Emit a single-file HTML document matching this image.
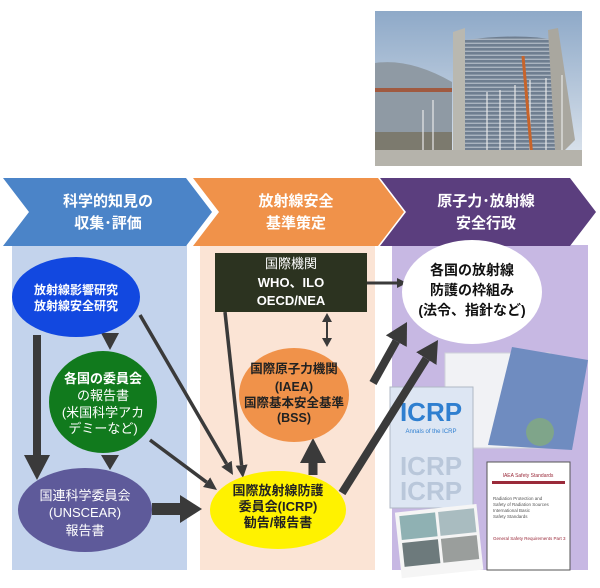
<!DOCTYPE html>
<html><head><meta charset="utf-8"><style>
body{margin:0;background:#fff;width:600px;height:583px;overflow:hidden}
svg text{font-family:"Liberation Sans","Noto Sans CJK JP",sans-serif;text-anchor:middle}
svg text.l{text-anchor:start}
</style></head><body>
<svg width="600" height="583" viewBox="0 0 600 583">
<defs>
<marker id="m13" markerUnits="userSpaceOnUse" markerWidth="13" markerHeight="12" refX="0" refY="6" orient="auto"><path d="M0,0 L13,6 L0,12z" fill="#3a3a3a"/></marker>
<marker id="m22" markerUnits="userSpaceOnUse" markerWidth="22" markerHeight="24" refX="0" refY="12" orient="auto"><path d="M0,0 L22,12 L0,24z" fill="#3a3a3a"/></marker>
<marker id="m10" markerUnits="userSpaceOnUse" markerWidth="10" markerHeight="10" refX="0" refY="5" orient="auto"><path d="M0,0 L10,5 L0,10z" fill="#3a3a3a"/></marker>
<linearGradient id="sky" x1="0" y1="0" x2="0" y2="1"><stop offset="0" stop-color="#8ea9c8"/><stop offset="1" stop-color="#dfe6ee"/></linearGradient>
<pattern id="win" width="6" height="4" patternUnits="userSpaceOnUse"><rect width="6" height="4" fill="#6f7e90"/><rect y="2.6" width="6" height="1.4" fill="#aab4c0"/></pattern>
</defs>
<!-- photo -->
<rect x="375" y="11" width="207" height="155" fill="url(#sky)"/>
<path d="M453,32 L465,28 L465,150 L453,150z" fill="#b9b8b0"/>
<path d="M465,40 Q520,33 555,40 L560,150 L465,150z" fill="url(#win)"/>
<path d="M548,30 L558,28 L575,140 L565,150 L555,150z" fill="#a9a79f"/>
<path d="M375,63 Q410,58 452,82 L452,150 L375,150z" fill="#8f9aa4"/>
<rect x="375" y="88" width="77" height="4" fill="#a05a40"/>
<rect x="375" y="132" width="77" height="18" fill="#7c7a6e"/>
<g stroke="#e8e8e8" stroke-width="1.2"><line x1="423" y1="110" x2="423" y2="150"/><line x1="433" y1="100" x2="433" y2="150"/><line x1="487" y1="92" x2="487" y2="150"/><line x1="500" y1="90" x2="500" y2="150"/><line x1="515" y1="85" x2="515" y2="150"/><line x1="530" y1="80" x2="530" y2="150"/><line x1="546" y1="78" x2="546" y2="150"/><line x1="562" y1="75" x2="562" y2="150"/></g>
<line x1="523" y1="56" x2="532" y2="158" stroke="#c8642a" stroke-width="3"/>
<rect x="375" y="150" width="207" height="16" fill="#b5b3ab"/>
<!-- panels -->
<rect x="12" y="245" width="175" height="325" fill="#c3d3ec"/>
<rect x="200" y="245" width="175" height="325" fill="#fbe4d5"/>
<rect x="392" y="245" width="196" height="325" fill="#c7b8e3"/>
<!-- chevrons -->
<path d="M3,178 L186,178 L212,212 L186,246 L3,246 L29,212z" fill="#4b84c8"/>
<path d="M193,178 L378,178 L404,212 L378,246 L193,246 L219,212z" fill="#f0924a"/>
<path d="M380,178 L570,178 L596,212 L570,246 L380,246 L406,212z" fill="#5b3e7e"/>
<g fill="#fff" font-size="15" font-weight="bold">
<text x="108" y="206">科学的知見の</text><text x="108" y="228">収集･評価</text>
<text x="296" y="206">放射線安全</text><text x="296" y="228">基準策定</text>
<text x="486" y="206">原子力･放射線</text><text x="486" y="228">安全行政</text>
</g>
<!-- books -->
<rect x="445" y="353" width="105" height="95" fill="#f1f2f5" stroke="#d0d3da"/>
<polygon points="512,347 588,360 572,450 488,445" fill="#6f8cc0"/>
<circle cx="540" cy="432" r="14" fill="#7fa58a"/>
<rect x="390" y="387" width="83" height="121" fill="#dde6f3" stroke="#b0b8c4"/>
<text x="431" y="421" font-size="26" font-weight="bold" fill="#2f7fd0">ICRP</text>
<text x="431" y="433" font-size="6" fill="#2f7fd0">Annals of the ICRP</text>
<text x="431" y="475" font-size="26" font-weight="bold" fill="#b9c7da">ICRP</text>
<text x="431" y="500" font-size="26" font-weight="bold" fill="#b9c7da">ICRP</text>
<g transform="rotate(-6 440 540)"><rect x="398" y="508" width="82" height="66" fill="#f5f5f5"/>
<rect x="402" y="512" width="36" height="24" fill="#8fb1b3"/><rect x="441" y="512" width="36" height="24" fill="#a9bcc0"/>
<rect x="402" y="539" width="36" height="24" fill="#6d7a7c"/><rect x="441" y="539" width="36" height="24" fill="#9a9e9c"/></g>
<rect x="487" y="462" width="83" height="108" fill="#fff" stroke="#555"/>
<rect x="492" y="481" width="73" height="3" fill="#9a2a3a"/>
<text x="528" y="477" font-size="5" fill="#9a2a3a">IAEA Safety Standards</text>
<g font-size="4.5" fill="#555"><text class="l" x="493" y="500">Radiation Protection and</text><text class="l" x="493" y="506">Safety of Radiation Sources</text><text class="l" x="493" y="512">International Basic</text><text class="l" x="493" y="518">Safety Standards</text><text class="l" x="493" y="540" fill="#9a2a3a">General Safety Requirements Part 3</text></g>
<!-- connectors -->
<g stroke="#3a3a3a" fill="none">
<line x1="37" y1="335" x2="37" y2="456" stroke-width="8"/>
<line x1="140" y1="315" x2="226.5" y2="463.8" stroke-width="3.5" marker-end="url(#m13)"/>
<line x1="150" y1="440" x2="206.6" y2="482.2" stroke-width="3.5" marker-end="url(#m13)"/>
<line x1="225" y1="312" x2="241.6" y2="465.1" stroke-width="3.5" marker-end="url(#m13)"/>
<line x1="152" y1="509" x2="181" y2="509" stroke-width="12"/>
<line x1="313" y1="475" x2="313" y2="461" stroke-width="9"/>
<line x1="373" y1="383" x2="396.3" y2="341.2" stroke-width="8" marker-end="url(#m22)"/>
<line x1="342" y1="493" x2="426.3" y2="358.6" stroke-width="8" marker-end="url(#m22)"/>
<line x1="367" y1="283" x2="397" y2="283" stroke-width="3" marker-end="url(#m10)"/>
<line x1="327" y1="320" x2="327" y2="340" stroke-width="2"/>
</g>
<g fill="#3a3a3a">
<polygon points="24,455 50,455 37,480"/>
<polygon points="101,333 119,333 110,350"/>
<polygon points="101,455 119,455 110,470"/>
<polygon points="180,495 180,523 202,509"/>
<polygon points="300,463 326,463 313,438"/>
<polygon points="322,322 332,322 327,313"/>
<polygon points="322,338 332,338 327,347"/>
</g>
<!-- nodes -->
<ellipse cx="76" cy="297" rx="64" ry="40" fill="#1248e0"/>
<g fill="#fff" font-size="12" font-weight="bold"><text x="76" y="294">放射線影響研究</text><text x="76" y="310">放射線安全研究</text></g>
<ellipse cx="103" cy="402" rx="54" ry="51" fill="#117a1d"/>
<g fill="#fff" font-size="13"><text x="103" y="383" font-weight="bold">各国の委員会</text><text x="103" y="400">の報告書</text><text x="103" y="417">(米国科学アカ</text><text x="103" y="433">デミーなど)</text></g>
<ellipse cx="85" cy="510" rx="67" ry="42" fill="#5e5a9a"/>
<g fill="#fff" font-size="13"><text x="85" y="500">国連科学委員会</text><text x="85" y="517">(UNSCEAR)</text><text x="85" y="535">報告書</text></g>
<ellipse cx="278" cy="510" rx="68" ry="39" fill="#fff200"/>
<g fill="#222" font-size="13" font-weight="bold"><text x="278" y="495">国際放射線防護</text><text x="278" y="511">委員会(ICRP)</text><text x="278" y="527">勧告/報告書</text></g>
<ellipse cx="294" cy="395" rx="55" ry="47" fill="#f0924a"/>
<g fill="#222" font-size="12.5" font-weight="bold"><text x="294" y="373">国際原子力機関</text><text x="294" y="391">(IAEA)</text><text x="294" y="407">国際基本安全基準</text><text x="294" y="422">(BSS)</text></g>
<rect x="215" y="253" width="152" height="59" fill="#2c3320"/>
<g fill="#fff" font-size="13" font-weight="bold"><text x="291" y="268" font-weight="normal">国際機関</text><text x="291" y="287">WHO、ILO</text><text x="291" y="305">OECD/NEA</text></g>
<ellipse cx="472" cy="292" rx="70" ry="52" fill="#fff"/>
<g fill="#111" font-size="14" font-weight="bold"><text x="472" y="275">各国の放射線</text><text x="472" y="295">防護の枠組み</text><text x="472" y="315">(法令、指針など)</text></g>
</svg>
</body></html>
